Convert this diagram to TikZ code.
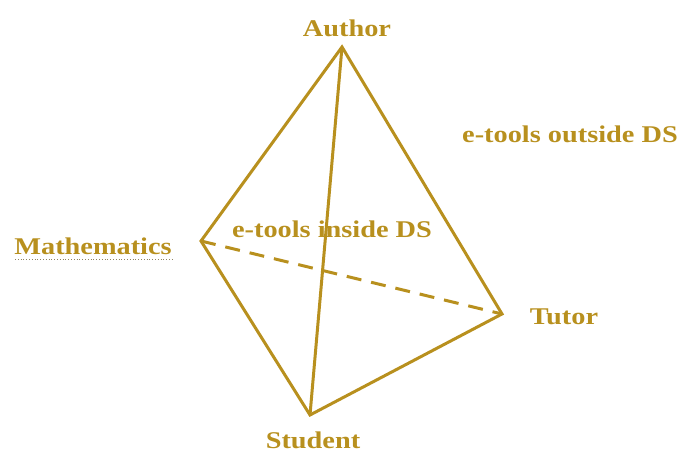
\documentclass[tikz,border=0pt]{standalone}
\usepackage{fontspec}
\setmainfont{Liberation Serif}[FakeStretch=1.18]
\definecolor{gold}{RGB}{184,144,30}
\tikzset{
  edge/.style={gold,line width=3pt,line join=miter},
  lbl/.style={gold,font=\fontsize{24}{28}\selectfont\bfseries,inner sep=0pt,anchor=base}
}
\begin{document}
\begin{tikzpicture}[x=1pt,y=-1pt]
        \useasboundingbox (0,0) rectangle (683,454);
        % corners of the tetrahedron
        \coordinate (A) at (342,47);
        \coordinate (M) at (201,241);
        \coordinate (T) at (502,314);
        \coordinate (S) at (310,415);
        % labels
        \node[lbl] (author) at (347,37) {Author};
        \node[lbl] (maths) at (93,255) {Mathematics};
        \node[lbl] (tutor) at (564,325) {Tutor};
        \node[lbl] (student) at (313,448) {Student};
        \node[lbl] (outside) at (570,143) {e-tools outside DS};
        \node[lbl] (inside) at (332,238) {e-tools inside DS};
        \draw[gray!70!gold,dotted,line width=0.8pt] (15,259) -- (172,259);
        % edges
        \draw[edge,dashed,dash pattern=on 15pt off 10pt] (M) -- (T);
        \draw[edge] (A) -- (M) -- (S) -- (T) -- cycle;
        \draw[edge] (A) -- (S);
\end{tikzpicture}
\end{document}
